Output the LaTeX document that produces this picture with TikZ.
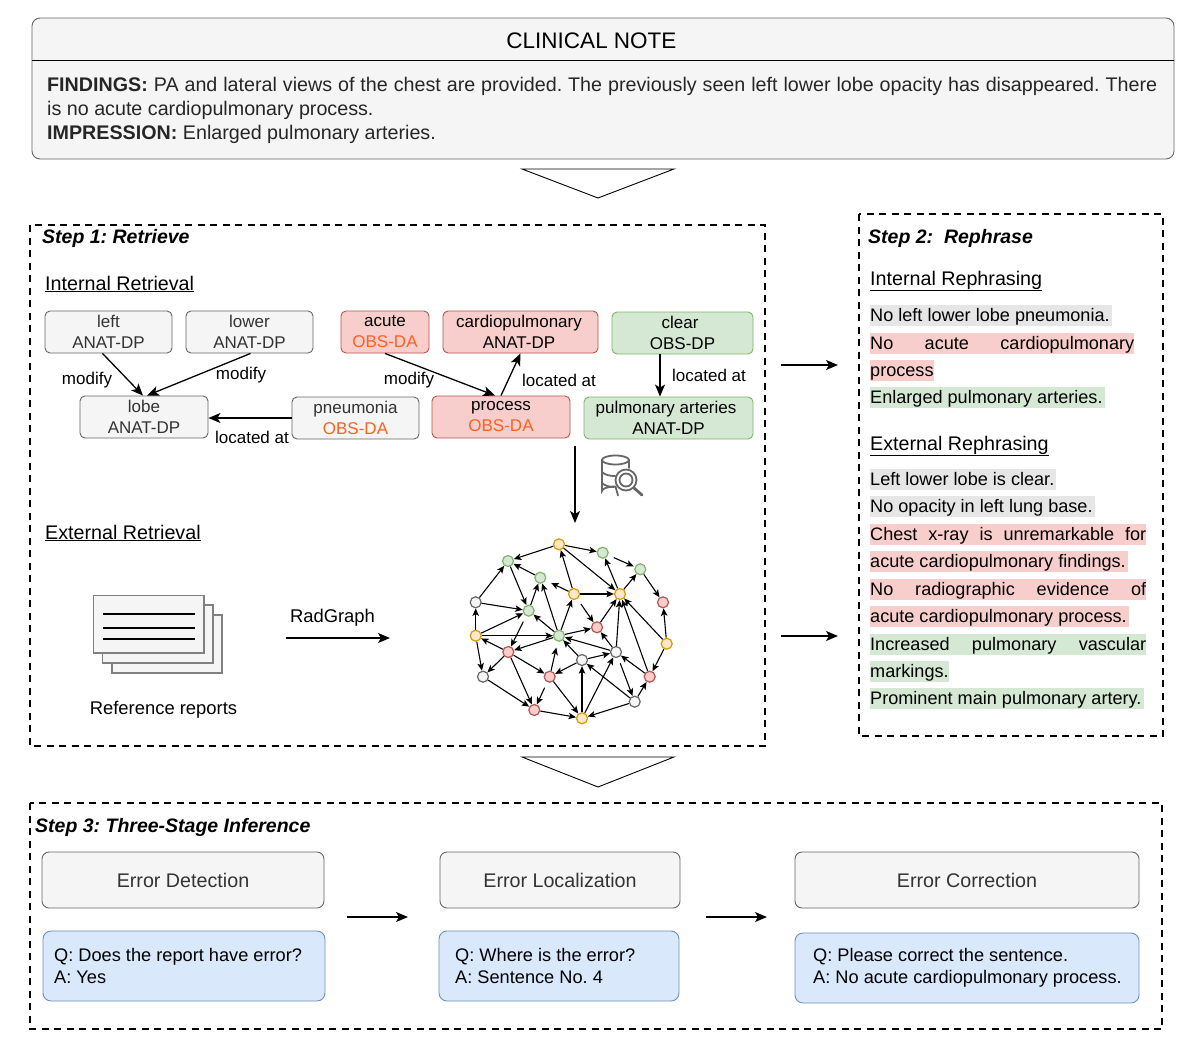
\documentclass[tikz,border=0pt]{standalone}
\usepackage{fontspec}
\setmainfont{Liberation Sans}
\usetikzlibrary{arrows.meta,calc}
\AtBeginDocument{\frenchspacing}
\definecolor{gf}{HTML}{F5F5F5}\definecolor{gd}{HTML}{666666}
\definecolor{rf}{HTML}{F8CECC}\definecolor{rd}{HTML}{B85450}
\definecolor{nf}{HTML}{D5E8D4}\definecolor{nd}{HTML}{82B366}
\definecolor{bf}{HTML}{DAE8FC}\definecolor{bd}{HTML}{6C8EBF}
\definecolor{yf}{HTML}{FFE6CC}\definecolor{yd}{HTML}{D79B00}
\definecolor{hg}{HTML}{E6E6E6}\definecolor{ob}{HTML}{FF5F1F}\definecolor{tg}{HTML}{333333}
\newcommand{\fz}[1]{\fontsize{#1}{#1}\selectfont}
\tikzset{
 x=1pt,y=-1pt,
 arr/.style={-{Stealth[length=12pt,width=10pt,inset=3pt]},line width=1.3pt,black},
 garr/.style={-{Stealth[length=7.5pt,width=6.5pt,inset=1.8pt]},line width=1.1pt,black},
 gap/.style={shorten >=6pt},
 gapb/.style={shorten <=6pt},
 dbox/.style={draw=black,line width=2.3pt,dash pattern=on 7pt off 5.5pt},
 sbox/.style={draw,rounded corners=5pt,line width=0.9pt,align=center,inner sep=0pt,font=\fontsize{17}{21}\selectfont,execute at begin node={\rule{0pt}{13pt}}},
 gb/.style={sbox,draw=gd,fill=gf,text=tg},
 rb/.style={sbox,draw=rd,fill=rf,text=black},
 nb/.style={sbox,draw=nd,fill=nf,text=black},
 bigb/.style={draw=gd,fill=gf,rounded corners=7pt,line width=0.9pt,font=\fz{19.7},text=tg,inner sep=0pt},
 blueb/.style={draw=bd,fill=bf,rounded corners=8pt,line width=0.9pt,inner sep=0pt},
 qtext/.style={anchor=west,inner sep=0pt,font=\fontsize{18.2}{22}\selectfont,align=left},
 lab/.style={font=\fz{17},inner sep=0pt},
 head/.style={font=\fz{19.7},inner sep=0pt,anchor=west},
 steplab/.style={font=\fz{19.5}\bfseries\itshape,inner sep=0pt,anchor=west},
 hl/.style={inner sep=0pt,anchor=west,font=\fz{18.1},minimum height=20pt,text height=16.5pt,text depth=4.5pt},
 tri/.style={draw=black,line width=0.9pt,fill=white},
 gn/.style={circle,draw,line width=1.2pt,minimum size=11pt,inner sep=0pt},
 ngy/.style={gn,draw=gd,fill=gf},
 ngr/.style={gn,draw=rd,fill=rf},
 ngn/.style={gn,draw=nd,fill=nf},
 ngo/.style={gn,draw=yd,fill=yf},
 doc/.style={draw=gray,fill=gf,line width=1.3pt},
}
\newcommand{\bx}[7]{\node[#1,minimum width=#4 pt-#3 pt,minimum height=#6 pt-#5 pt] (#2) at ({(#3+#4)/2},{(#5+#6)/2}) {#7};}
\newcommand{\hlf}[5]{\node[hl,fill=#4] (#1) at (870,#2) {\makebox[#3 pt][s]{#5}};}
\newcommand{\hln}[5]{\node[hl,fill=#4] (#1) at (870,#2) {\makebox[#3 pt][l]{#5}};}
\begin{document}
\begin{tikzpicture}
\path[use as bounding box,fill=white] (0,0) rectangle (1196,1049);
% clinical note
\node[draw=gd,fill=gf,rounded corners=8pt,line width=0.9pt,minimum width=1142pt,minimum height=141pt,inner sep=0pt] (note) at (603,88.5) {};
\draw[line width=0.9pt,black] (note.west |- 0,60) coordinate (nl) -- (note.east |- 0,60) coordinate (nr);
\node[font=\fz{22.5},inner sep=0pt] (ntitle) at (591.5,41) {CLINICAL NOTE};
\node[anchor=west,inner sep=0pt,align=left,text=black!85,font=\fontsize{19.7}{24}\selectfont] (ntext) at (47,110) {\makebox[1110pt][s]{\textbf{FINDINGS:} PA and lateral views of the chest are provided. The previously seen left lower lobe opacity has disappeared. There}\\is no acute cardiopulmonary process.\\\textbf{IMPRESSION:} Enlarged pulmonary arteries.};
\draw[tri] (522,169) -- (674,169) -- (598,198) -- cycle;
\draw[tri] (522,757) -- (674,757) -- (598,787) -- cycle;
% dashed
\draw[dbox] (30,225) rectangle (765,746);
\draw[dbox] (859,214) rectangle (1163,736);
\draw[dbox] (30,803) rectangle (1162,1029);
\node[steplab] (s1) at (42,238) {Step 1: Retrieve};
\node[steplab] (s2) at (868,238) {Step 2:\ \ Rephrase};
\node[steplab] (s3) at (35,827) {Step 3: Three-Stage Inference};
\node[head] (ir) at (45,284) {\underline{Internal Retrieval}};
\node[head] (er) at (45,533) {\underline{External Retrieval}};
\node[head] (ire) at (870,281) {\underline{Internal Rephrasing}};
\node[head] (ere) at (870,446) {\underline{External Rephrasing}};
% boxes
\bx{gb}{left}{45}{172}{311}{353}{left\\ANAT-DP}
\bx{gb}{lower}{186}{313}{311}{353}{lower\\ANAT-DP}
\bx{rb}{acute}{341}{429}{311}{353}{acute\\\textcolor{ob}{OBS-DA}}
\bx{rb}{cardio}{443}{598}{311}{353}{cardiopulmonary\hspace*{3pt}\\ANAT-DP\hspace*{3pt}}
\bx{nb}{clear}{612}{753}{312}{354}{clear\hspace*{5pt}\\OBS-DP}
\bx{gb}{lobe}{80}{208}{396}{438}{lobe\\ANAT-DP}
\bx{gb}{pneu}{292}{419}{397}{439}{pneumonia\\\textcolor{ob}{OBS-DA}}
\bx{rb}{proc}{432}{570}{396}{438}{process\\\textcolor{ob}{OBS-DA}}
\bx{nb}{pulm}{584}{753}{397}{439}{pulmonary arteries\hspace*{5pt}\\ANAT-DP}
\draw[arr] ([xshift=-6pt]left.south) -- ([xshift=-1pt]lobe.north);
\draw[arr] ([xshift=1pt]lower.south) -- ([xshift=3pt]lobe.north);
\draw[arr] (pneu.west) -- (pneu.west -| lobe.east);
\draw[arr] (acute.south) -- ([xshift=-6pt]proc.north);
\draw[arr] (proc.north) -- (cardio.south);
\draw[arr] ([xshift=-22.5pt]clear.south) -- ([xshift=-8.5pt]pulm.north);
\node[lab] (l1) at (87,380) {modify};
\node[lab] (l2) at (241,375) {modify};
\node[lab] (l3) at (409,380) {modify};
\node[lab] (l4) at (252,437) {located at};
\node[lab] (l5) at (559,380) {located at};
\node[lab] (l6) at (709,375) {located at};
% db icon
\begin{scope}[draw=gd,line width=1.8pt,line cap=round]
\draw (629,468) -- (629,460) arc[start angle=0,end angle=360,x radius=13.5pt,y radius=4.5pt];
\draw (602,460) -- (602,491) arc[start angle=180,end angle=270,x radius=13.5pt,y radius=-4.5pt] -- (618,495.5);
\draw (602,472) .. controls (605,475) and (610,476) .. (615,476);
\draw (602,483) .. controls (605,486) and (610,487) .. (614,487);
\draw[fill=white] (626,480) circle[radius=10.5pt];
\draw (626,480) circle[radius=6.5pt];
\draw[line width=2.8pt] (634,488) -- (642,495);
\end{scope}
\coordinate (a1) at (575,446); \coordinate (a2) at (575,523);
\draw[arr] (a1) -- (a2);
% docs
\draw[doc] (112,615) rectangle (222,673);
\draw[doc] (102.7,605) rectangle (213,663);
\draw[doc] (93.3,595.7) rectangle (204,653);
\foreach \yy in {614,628,639} \draw[line width=1.1pt,black] (103,\yy) -- (195,\yy);
\node[lab,font=\fz{18.4}] (refr) at (163.5,710) {Reference reports};
\node[lab,font=\fz{18.4}] (rg) at (332.5,618) {RadGraph};
\coordinate (b1) at (286,638); \coordinate (b2) at (390,638);
\draw[arr] (b1) -- (b2);
\coordinate (c1) at (781,365); \coordinate (c2) at (838,365);
\coordinate (c3) at (781,636); \coordinate (c4) at (838,636);
\draw[arr] (c1) -- (c2); \draw[arr] (c3) -- (c4);
% graph
\node[ngo] (a) at (559,544.3) {};
\node[ngn] (b) at (508,561) {};
\node[ngn] (c) at (602.7,552.7) {};
\node[ngn] (d) at (640.3,569.3) {};
\node[ngn] (e) at (540.3,577.7) {};
\node[ngo] (f) at (574,594) {};
\node[ngo] (g) at (620,594) {};
\node[ngr] (h) at (663,602.3) {};
\node[ngy] (i) at (475.7,602.3) {};
\node[ngn] (j) at (528.7,610.7) {};
\node[ngr] (k) at (597,627.3) {};
\node[ngo] (l) at (475.7,635.7) {};
\node[ngn] (m) at (559,635.7) {};
\node[ngo] (n) at (666.7,643.7) {};
\node[ngr] (o) at (508.3,652) {};
\node[ngy] (p) at (582,660) {};
\node[ngy] (q) at (616,652) {};
\node[ngy] (r) at (483,676.7) {};
\node[ngr] (s) at (549.7,676.7) {};
\node[ngr] (t) at (649.7,676.7) {};
\node[ngy] (u) at (634.7,701.7) {};
\node[ngr] (v) at (534.3,710) {};
\node[ngo] (w) at (582,718.3) {};
\foreach \p/\q in {a/b,a/c,a/g,f/a,b/j,e/b,i/b,g/c,g/d,d/h,f/g,j/e,i/j,l/i,l/j,l/m,m/j,m/e,m/f,m/o,k/g,m/k,q/m,q/k,q/g,p/q,p/m,p/s,o/l,o/r,o/s,o/v,r/v,s/w,v/w,w/p,w/q,u/w,u/p,u/t,t/q,t/g,n/g,n/t,n/h,l/r}
  \draw[garr] (\p) -- (\q);
\draw[garr,gapb,shorten >=1pt] (c) -- (d);
\draw[garr,gap] (f) -- (e);
\draw[garr,gapb] (j) -- (o);
\draw[garr,gapb] (f) -- (k);
\draw[garr,gap] (s) -- (m);
\draw[garr,gapb] (s) -- (v);
\draw[garr,gapb] (q) -- (u);
% step 2
\hln{t1}{315}{242}{hg}{No left lower lobe pneumonia.}
\hlf{t2}{343}{264}{rf}{No acute cardiopulmonary}
\hln{t3}{370}{64}{rf}{process}
\hln{t4}{397}{235}{nf}{Enlarged pulmonary arteries.}
\hln{t5}{479}{186}{hg}{Left lower lobe is clear.}
\hln{t6}{506}{225}{hg}{No opacity in left lung base.}
\hlf{t7}{534}{276}{rf}{Chest x-ray is unremarkable for}
\hln{t8}{561}{258}{rf}{acute cardiopulmonary findings.}
\hlf{t9}{589}{276}{rf}{No radiographic evidence of}
\hln{t10}{616}{259}{rf}{acute cardiopulmonary process.}
\hlf{t11}{644}{276}{nf}{Increased pulmonary vascular}
\hln{t12}{671}{79}{nf}{markings.}
\hln{t13}{698}{274}{nf}{Prominent main pulmonary artery.}
% step 3
\bx{bigb}{e1}{42}{324}{852}{908}{Error Detection}
\bx{bigb}{e2}{440}{680}{852}{908}{Error Localization}
\bx{bigb}{e3}{795}{1139}{852}{908}{Error Correction}
\coordinate (d1) at (347,917); \coordinate (d2) at (408,917);
\coordinate (d3) at (706,917); \coordinate (d4) at (767,917);
\draw[arr] (d1) -- (d2); \draw[arr] (d3) -- (d4);
\node[blueb,minimum width=282pt,minimum height=70pt] (q1) at (184,966) {}; 
\node[blueb,minimum width=240pt,minimum height=70pt] (q2) at (559,966) {};
\node[blueb,minimum width=344pt,minimum height=70pt] (q3) at (967,968) {};
\node[qtext] (q1t) at (54,966) {Q: Does the report have error?\\A: Yes};
\node[qtext] (q2t) at (455,966) {Q: Where is the error?\\A: Sentence No. 4};
\node[qtext] (q3t) at (813,968) {Q: Please correct the sentence.\\A: No acute cardiopulmonary process.};
\end{tikzpicture}
\end{document}
